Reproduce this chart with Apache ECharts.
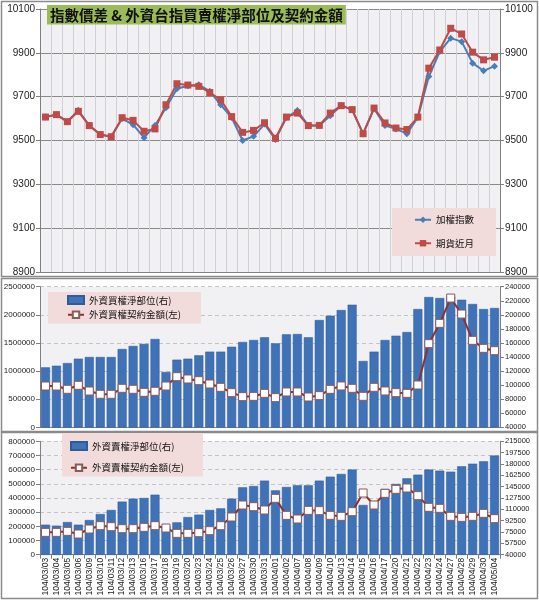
<!DOCTYPE html>
<html>
<head>
<meta charset="utf-8">
<script src="https://cdn.jsdelivr.net/npm/echarts@6/dist/echarts.min.js"></script>
<style>
html,body{margin:0;padding:0;background:#fff;}
#c{width:539px;height:600px;}
</style>
</head>
<body>
<div id="c"></div>
<script>
const dates = ['104/03/03','104/03/04','104/03/05','104/03/06','104/03/09','104/03/10','104/03/11','104/03/12','104/03/13','104/03/16','104/03/17','104/03/18','104/03/19','104/03/20','104/03/23','104/03/24','104/03/25','104/03/26','104/03/27','104/03/30','104/03/31','104/04/01','104/04/02','104/04/07','104/04/08','104/04/09','104/04/10','104/04/13','104/04/14','104/04/15','104/04/16','104/04/17','104/04/20','104/04/21','104/04/22','104/04/23','104/04/24','104/04/27','104/04/28','104/04/29','104/04/30','104/05/04'];

const taiex = [9607,9618,9586,9638,9568,9527,9517,9600,9572,9513,9568,9649,9736,9750,9754,9725,9663,9605,9500,9519,9575,9505,9605,9637,9568,9569,9613,9660,9640,9530,9645,9568,9553,9531,9605,9792,9906,9967,9951,9853,9818,9839];
const futures = [9607,9618,9586,9633,9568,9527,9517,9604,9592,9542,9553,9663,9759,9753,9747,9719,9686,9609,9537,9546,9581,9510,9607,9625,9568,9569,9625,9659,9641,9531,9648,9580,9557,9550,9607,9830,9913,10012,9986,9903,9868,9880];

const callNetPos = [125300,127600,131400,137600,140000,140000,140000,151400,155700,158600,165600,118600,136200,137600,142400,147600,147600,154600,161400,164200,168000,159400,172200,172700,168000,192600,198800,206800,214400,134300,147600,164200,170300,175500,208200,225300,223900,226000,221500,215400,208200,209700];
const callAmount = [734000,734000,676000,747000,645000,587000,587000,693000,676000,622000,640000,734000,900000,859000,829000,770000,711000,616000,545000,550000,604000,527000,628000,628000,539000,563000,675000,735000,693000,551000,711000,646000,616000,604000,752000,1487000,1848000,2298000,2014000,1546000,1404000,1362000];

const putNetPos = [86300,84800,90400,86300,93500,102800,109000,121900,126500,127500,132600,83800,89900,98100,101800,109000,111500,126500,144000,146000,154300,139300,144500,147100,147100,154300,160400,164600,171300,116700,121300,141400,149200,157900,163500,171300,169700,168100,176400,180500,184100,193000];
const putAmount = [157600,157600,164700,145900,181200,204700,197600,183500,183500,193000,204700,188200,150600,150600,155300,169400,204700,265900,350600,338800,315300,397600,277600,251800,312900,310600,277600,270600,303500,435300,350600,432900,461200,470600,416500,334100,327100,270600,263500,270600,291800,254100];

const titleText = '指數價差 & 外資台指買賣權淨部位及契約金額';
const nameTaiex = '加權指數', nameFut = '期貨近月';
const nameCallPos = '外資買權淨部位(右)', nameCallAmt = '外資買權契約金額(左)';
const namePutPos = '外資賣權淨部位(右)', namePutAmt = '外資賣權契約金額(左)';

const FONT = '"Liberation Sans", "Noto Sans CJK TC", sans-serif';
const CJK = '"Noto Sans CJK TC", sans-serif';
const chart = echarts.init(document.getElementById('c'), null, {renderer:'canvas'});

const blue = '#4a7ebb', red = '#be4b48', bar = '#3f72b6', dred = '#8c3230';
const gridBg = '#f1f1f3';
const plain = v => String(v);

function catAxis(gi, showLabels) {
  return {
    type:'category', gridIndex:gi, data:dates, boundaryGap:true,
    axisLine:{show:true, lineStyle:{color:'#808080', width:1}},
    axisTick:{show:showLabels, length:4, lineStyle:{color:'#808080'}},
    axisLabel: showLabels ? {rotate:90, fontSize:8.5, color:'#222', margin:3, interval:0, fontFamily:FONT} : {show:false},
    splitLine: gi===0 ? {show:true, interval:0, lineStyle:{color:'#cfd0d8', width:1}} : {show:false}
  };
}
function valAxis(gi, pos, min, max, interval, fs, split) {
  return {
    type:'value', gridIndex:gi, position:pos, min:min, max:max, interval:interval,
    axisLine:{show:true, lineStyle:{color:'#808080'}},
    axisTick:{show:true, length:4, lineStyle:{color:'#808080'}},
    axisLabel:{fontSize:fs, color:'#222', margin:5, fontFamily:FONT, formatter:plain},
    splitLine: split
  };
}

const option = {
  animation:false,
  backgroundColor:'#fff',
  textStyle:{fontFamily:FONT},
  title:{
    text:titleText, left:47, top:5,
    backgroundColor:'#9bbb59', padding:[3,3,2,3],
    textStyle:{fontSize:14.5, fontWeight:'bold', color:'#111', fontFamily:CJK}
  },
  graphic:[
    {type:'rect', shape:{x:1.5, y:1.5, width:536, height:275}, style:{fill:null, stroke:'#8a8a8a', lineWidth:1.5}, z:-1},
    {type:'rect', shape:{x:1.5, y:278.5, width:536, height:153}, style:{fill:null, stroke:'#8a8a8a', lineWidth:1.5}, z:-1},
    {type:'rect', shape:{x:1.5, y:432.5, width:536, height:166}, style:{fill:null, stroke:'#8a8a8a', lineWidth:1.5}, z:-1}
  ],
  legend:[
    {data:[nameTaiex, nameFut], orient:'vertical', left:392, top:208,
     padding:[7,22,8,22], itemGap:14, itemWidth:16, itemHeight:8,
     backgroundColor:'#f2dcdb', textStyle:{fontSize:9.5, color:'#111', fontFamily:CJK}},
    {data:[{name:nameCallPos, icon:'rect'}, nameCallAmt], orient:'vertical', left:48, top:292,
     padding:[3,20,4,19], itemGap:5, itemWidth:16, itemHeight:8,
     backgroundColor:'#f2dcdb', textStyle:{fontSize:9.5, color:'#111', fontFamily:CJK}},
    {data:[{name:namePutPos, icon:'rect'}, namePutAmt], orient:'vertical', left:62, top:433,
     padding:[8,19,4,8], itemGap:12, itemWidth:16, itemHeight:8,
     backgroundColor:'#f2dcdb', textStyle:{fontSize:9.5, color:'#111', fontFamily:CJK}}
  ],
  grid:[
    {left:40, right:39, top:9, height:263, show:true, backgroundColor:gridBg, borderWidth:0},
    {left:40, right:39, top:286.7, height:140.6, show:true, backgroundColor:gridBg, borderWidth:0},
    {left:40, right:39, top:441.3, height:113.4, show:true, backgroundColor:gridBg, borderWidth:0}
  ],
  xAxis:[catAxis(0,false), catAxis(1,false), catAxis(2,true)],
  yAxis:[
    valAxis(0,'left',8900,10100,200,10,{show:true, lineStyle:{color:'#8a8a8a', width:1}}),
    valAxis(0,'right',8900,10100,200,10,{show:false}),
    valAxis(1,'left',0,2500000,500000,8,{show:true, lineStyle:{color:'#c4c4c4', type:[4,3]}}),
    valAxis(1,'right',40000,240000,20000,7.5,{show:false}),
    valAxis(2,'left',0,800000,100000,8,{show:true, lineStyle:{color:'#c4c4c4', type:[4,3]}}),
    valAxis(2,'right',40000,215000,17500,7.5,{show:false})
  ],
  series:[
    {name:nameTaiex, type:'line', xAxisIndex:0, yAxisIndex:0, data:taiex, showAllSymbol:true,
     symbol:'diamond', symbolSize:7, lineStyle:{color:blue, width:2}, itemStyle:{color:blue}},
    {name:nameFut, type:'line', xAxisIndex:0, yAxisIndex:0, data:futures, showAllSymbol:true,
     symbol:'rect', symbolSize:7, lineStyle:{color:red, width:2}, itemStyle:{color:red}},
    {name:nameCallPos, type:'bar', xAxisIndex:1, yAxisIndex:3, data:callNetPos, barWidth:9,
     itemStyle:{color:bar, borderColor:'#2d5c98', borderWidth:0.5}},
    {name:nameCallAmt, type:'line', xAxisIndex:1, yAxisIndex:2, data:callAmount, showAllSymbol:true, z:5,
     symbol:'rect', symbolSize:8, lineStyle:{color:dred, width:2},
     itemStyle:{color:'#fff', borderColor:'#8a5a5a', borderWidth:1}},
    {name:namePutPos, type:'bar', xAxisIndex:2, yAxisIndex:5, data:putNetPos, barWidth:9,
     itemStyle:{color:bar, borderColor:'#2d5c98', borderWidth:0.5}},
    {name:namePutAmt, type:'line', xAxisIndex:2, yAxisIndex:4, data:putAmount, showAllSymbol:true, z:5,
     symbol:'rect', symbolSize:8, lineStyle:{color:dred, width:2},
     itemStyle:{color:'#fff', borderColor:'#8a5a5a', borderWidth:1}}
  ]
};
chart.setOption(option);
</script>
</body>
</html>
